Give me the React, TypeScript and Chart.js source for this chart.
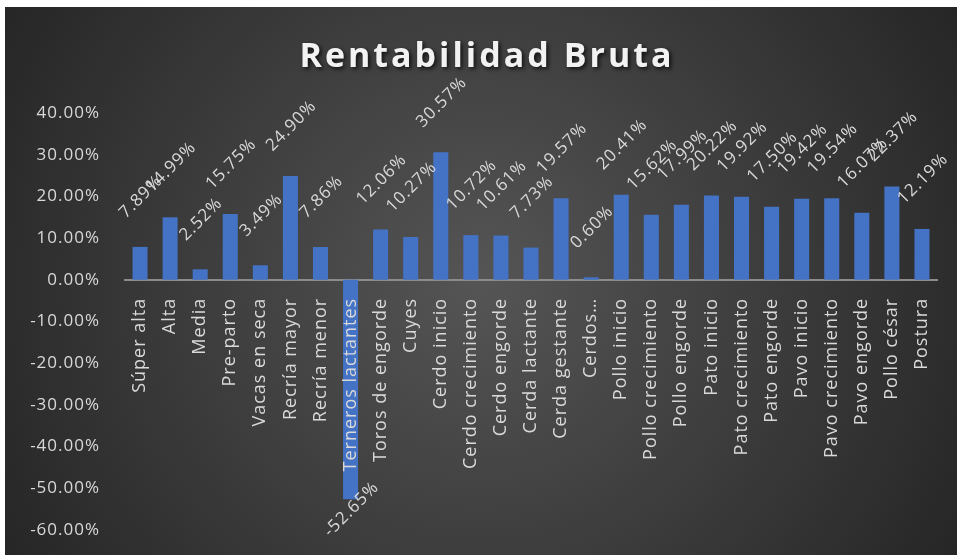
import React, { useEffect, useRef } from 'react';
import { Chart, registerables } from 'chart.js';

Chart.register(...registerables);

const title = 'Rentabilidad Bruta';
const categories = [
  'Súper alta', 'Alta', 'Media', 'Pre-parto', 'Vacas en seca', 'Recría mayor', 'Recría menor',
  'Terneros lactantes', 'Toros de engorde', 'Cuyes', 'Cerdo inicio', 'Cerdo crecimiento',
  'Cerdo engorde', 'Cerda lactante', 'Cerda gestante', 'Cerdos…', 'Pollo inicio',
  'Pollo crecimiento', 'Pollo engorde', 'Pato inicio', 'Pato crecimiento', 'Pato engorde',
  'Pavo inicio', 'Pavo crecimiento', 'Pavo engorde', 'Pollo césar', 'Postura',
];
const values = [
  7.89, 14.99, 2.52, 15.75, 3.49, 24.9, 7.86, -52.65, 12.06, 10.27, 30.57, 10.72, 10.61, 7.73,
  19.57, 0.6, 20.41, 15.62, 17.99, 20.22, 19.92, 17.5, 19.42, 19.54, 16.07, 22.37, 12.19,
];
const yMin = -60;
const yMax = 40;
const yStep = 10;

const FONT = '"Open Sans", "Noto Sans", sans-serif';
const TEXT = '#d9d9d9';

const bgPlugin = {
  id: 'bg',
  beforeDraw(chart: any) {
    const { ctx, width, height } = chart;
    ctx.save();
    const g = ctx.createRadialGradient(width / 2, height / 2, 0, width / 2, height / 2, width * 0.6);
    g.addColorStop(0, '#555555');
    g.addColorStop(1, '#242424');
    ctx.fillStyle = g;
    ctx.fillRect(0, 0, width, height);
    ctx.restore();
    (ctx as any).letterSpacing = '1px';
  },
  afterDraw(chart: any) {
    (chart.ctx as any).letterSpacing = '0px';
  },
};

const titlePlugin = {
  id: 'customTitle',
  afterDraw(chart: any) {
    const { ctx, width } = chart;
    ctx.save();
    ctx.font = `bold 34px ${FONT}`;
    (ctx as any).letterSpacing = '3px';
    ctx.textAlign = 'center';
    ctx.textBaseline = 'alphabetic';
    ctx.shadowColor = 'rgba(0,0,0,0.75)';
    ctx.shadowOffsetX = 2;
    ctx.shadowOffsetY = 2;
    ctx.shadowBlur = 4;
    ctx.fillStyle = '#f2f2f2';
    ctx.fillText(title, width / 2 + 6, 60);
    ctx.restore();
  },
};

const labelPlugin = {
  id: 'barLabels',
  afterDatasetsDraw(chart: any) {
    const { ctx } = chart;
    const meta = chart.getDatasetMeta(0);
    ctx.save();
    ctx.font = `17px ${FONT}`;
    ctx.fillStyle = TEXT;
    ctx.textAlign = 'center';
    ctx.textBaseline = 'middle';
    meta.data.forEach((bar: any, i: number) => {
      const v = values[i];
      const txt = v.toFixed(2) + '%';
      const cx = bar.x + 1;
      const cy = v >= 0 ? bar.y - 50 : bar.y + 10;
      ctx.save();
      ctx.translate(cx, cy);
      ctx.rotate(-Math.PI / 4);
      ctx.fillText(txt, 0, 0);
      ctx.restore();
    });
    ctx.restore();
  },
};

function noPad(scale: any) {
  scale.paddingLeft = 0;
  scale.paddingRight = 0;
  scale.paddingTop = 0;
  scale.paddingBottom = 0;
}

export default function App() {
  const ref = useRef<HTMLCanvasElement | null>(null);
  useEffect(() => {
    if (!ref.current) return;
    const chart = new Chart(ref.current, {
      type: 'bar',
      data: {
        labels: categories,
        datasets: [
          {
            data: values,
            backgroundColor: '#4472c4',
            borderWidth: 0,
            categoryPercentage: 1,
            barPercentage: 0.5,
          },
        ],
      },
      options: {
        animation: false,
        responsive: false,
        layout: { padding: { top: 106, bottom: 25, right: 20, left: 0 } },
        plugins: {
          legend: { display: false },
          title: { display: false },
          tooltip: { enabled: false },
        },
        scales: {
          x: {
            position: { y: 0 } as any,
            grid: { display: false, drawTicks: false },
            border: { display: true, color: '#8c8c8c', width: 2 },
            afterFit: noPad,
            ticks: {
              z: 1,
              autoSkip: false,
              maxRotation: 90,
              minRotation: 90,
              padding: 18,
              color: TEXT,
              font: { family: FONT, size: 18 },
            },
          },
          y: {
            min: yMin,
            max: yMax,
            grid: { display: false, drawTicks: false },
            border: { display: false },
            afterFit(scale: any) {
              scale.width = 120;
              noPad(scale);
            },
            ticks: {
              stepSize: yStep,
              padding: 25,
              color: TEXT,
              font: { family: FONT, size: 17 },
              callback: (v: any) => Number(v).toFixed(2) + '%',
            },
          },
        },
      },
      plugins: [bgPlugin, titlePlugin, labelPlugin],
    });
    return () => chart.destroy();
  }, []);
  return (
    <div style={{ position: 'absolute', left: 5, top: 7, width: 952, height: 548 }}>
      <canvas ref={ref} width={952} height={548} style={{ width: 952, height: 548, display: 'block' }} />
    </div>
  );
}
